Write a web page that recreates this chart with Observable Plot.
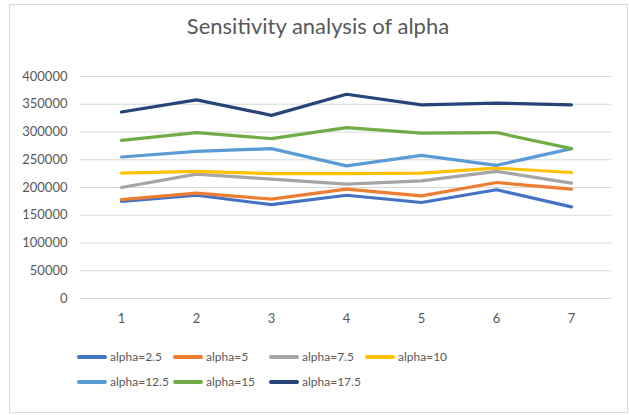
<!DOCTYPE html>
<html>
<head>
<meta charset="utf-8">
<script src="https://cdn.jsdelivr.net/npm/d3@7"></script>
<script src="https://cdn.jsdelivr.net/npm/@observablehq/plot@0.6"></script>
<style>
  html, body { margin: 0; padding: 0; background: #fff; }
  #page { position: relative; width: 629px; height: 415px; overflow: hidden; font-family: Lato, "Open Sans", sans-serif; color: #595959; }
  #frame { position: absolute; left: 9px; top: 4px; width: 619px; height: 409px; box-sizing: border-box; border: 1px solid #d9d9d9; }
  #title { position: absolute; left: 0; width: 636px; top: 15px; text-align: center; font-size: 22px; line-height: 22px; }
  #chart { position: absolute; left: 0; top: 0; }
  #legend { position: absolute; left: 77px; top: 344px; width: 400px; display: flex; flex-wrap: wrap; font-size: 12px; }
  .item { width: 96px; height: 25px; display: flex; align-items: center; white-space: nowrap; }
  .swatch { width: 30px; height: 4px; border-radius: 2px; margin-right: 3px; flex: none; }
</style>
</head>
<body>
<div id="page">
  <div id="frame"></div>
  <div id="title">Sensitivity analysis of alpha</div>
  <div id="chart"></div>
  <div id="legend"></div>
</div>
<script>
// Run index on the x axis
const runs = [1, 2, 3, 4, 5, 6, 7];

// Objective value per run for each alpha setting
const alpha2_5  = [175000, 186000, 169000, 186000, 173000, 196000, 165000];
const alpha5    = [178000, 190000, 179000, 197000, 185000, 209000, 197000];
const alpha7_5  = [200000, 224000, 215000, 206000, 212000, 229000, 208000];
const alpha10   = [226000, 229000, 225000, 225000, 226000, 235000, 227000];
const alpha12_5 = [255000, 265000, 270000, 239000, 258000, 240000, 270000];
const alpha15   = [285000, 299000, 288000, 308000, 298000, 299000, 270000];
const alpha17_5 = [336000, 358000, 330000, 368000, 349000, 352000, 349000];

const seriesNames = ["alpha=2.5", "alpha=5", "alpha=7.5", "alpha=10", "alpha=12.5", "alpha=15", "alpha=17.5"];
const seriesValues = [alpha2_5, alpha5, alpha7_5, alpha10, alpha12_5, alpha15, alpha17_5];
const seriesColors = ["#4472c4", "#ed7d31", "#a5a5a5", "#ffc000", "#5b9bd5", "#70ad47", "#264478"];

const yTicks = [0, 50000, 100000, 150000, 200000, 250000, 300000, 350000, 400000];

// Long-format table for the line marks
const rows = seriesNames.flatMap((name, s) =>
  runs.map((run, i) => ({ series: name, run, value: seriesValues[s][i] }))
);

const chart = Plot.plot({
  width: 629,
  height: 335,
  marginLeft: 80,
  marginRight: 18,
  marginTop: 76,
  marginBottom: 37,
  style: { fontFamily: "Lato, 'Open Sans', sans-serif", fontSize: "13px", color: "#595959", background: "transparent" },
  x: { type: "point", domain: runs, padding: 0.5, label: null },
  y: { domain: [0, 400000], label: null },
  color: { domain: seriesNames, range: seriesColors },
  marks: [
    Plot.gridY(yTicks, { stroke: "#d9d9d9", strokeOpacity: 1, strokeWidth: 1 }),
    Plot.axisY(yTicks, { tickSize: 0, tickPadding: 13, tickFormat: d => String(d), label: null, fill: "#595959" }),
    Plot.axisX(runs, { tickSize: 0, tickPadding: 15, label: null, fill: "#595959" }),
    Plot.line(rows, {
      x: "run", y: "value", z: "series", stroke: "series",
      strokeWidth: 3.2, strokeLinecap: "round", strokeLinejoin: "round"
    })
  ]
});
document.getElementById("chart").appendChild(chart);

// Legend in two rows below the plot
const legend = document.getElementById("legend");
seriesNames.forEach((name, i) => {
  const item = document.createElement("div");
  item.className = "item";
  const sw = document.createElement("span");
  sw.className = "swatch";
  sw.style.background = seriesColors[i];
  const label = document.createElement("span");
  label.textContent = name;
  item.appendChild(sw);
  item.appendChild(label);
  legend.appendChild(item);
});
</script>
</body>
</html>
